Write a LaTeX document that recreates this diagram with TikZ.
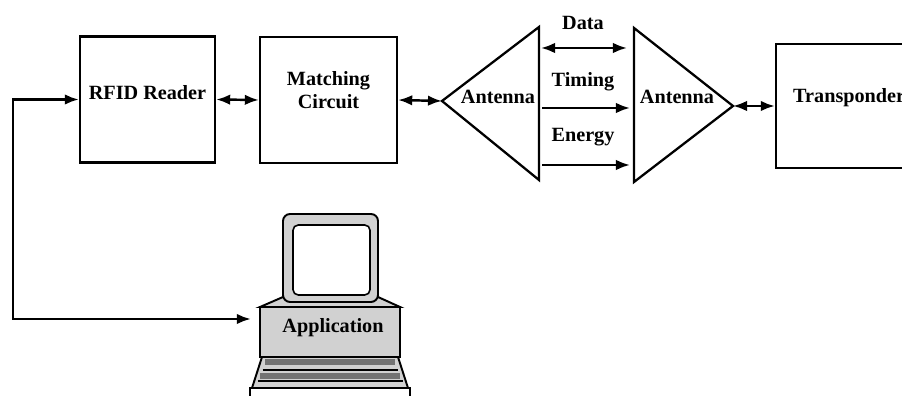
\documentclass[tikz,border=0pt]{standalone}
\usepackage{fontspec}
\setmainfont{Liberation Serif}
\usetikzlibrary{arrows.meta}
\tikzset{
  block/.style={draw,line width=1.3pt,minimum width=2.7cm,minimum height=2.52cm,inner sep=0pt},
  lbl/.style={font=\bfseries\fontsize{11.5}{13}\selectfont,align=center,inner sep=0pt},
  link/.style={line width=1.4pt,{Latex[length=8pt,width=6pt]}-{Latex[length=8pt,width=6pt]}},
  feed/.style={line width=1.4pt,-{Latex[length=8pt,width=6pt]}},
  stipple/.style={fill=black!18},
}
\begin{document}
\begin{tikzpicture}
\useasboundingbox (0,0) rectangle (18.04,7.92);
\node (reader) [block] at (2.95,5.93) {};
\node (readertxt) [lbl] at ([yshift=.13cm]reader.center) {RFID Reader};
\node (match) [block,minimum width=2.74cm] at (6.57,5.92) {};
\node (matchtxt) [lbl] at ([yshift=.2cm]match.center) {Matching\\Circuit};
\node (xp) [block,minimum height=2.48cm] at (16.87,5.8) {};
\node (xptxt) [lbl,anchor=west] at ([xshift=.36cm,yshift=.16cm]xp.west) {Transponder};
% the two antennas
\draw[line width=1.3pt] (10.78,7.38) -- (8.84,5.9) coordinate (a1tip) -- (10.78,4.32) -- cycle;
\node (a1txt) [lbl] at (9.96,5.98) {Antenna};
\draw[line width=1.3pt] (12.68,7.36) -- (14.66,5.8) coordinate (a2tip) -- (12.68,4.28) -- cycle;
\node (a2txt) [lbl] at (13.54,5.98) {Antenna};
\draw[link] (reader.east) -- (match.west);
\draw[link] (match.east) -- (a1tip);
\draw[link] (a2tip) -- (xp.west);
% air interface
\coordinate (dataL) at (10.82,6.96);
\coordinate (dataR) at (12.54,6.96);
\coordinate (timeL) at (10.84,5.76);
\coordinate (timeR) at (12.6,5.76);
\coordinate (enL) at (10.84,4.62);
\coordinate (enR) at (12.6,4.62);
\draw[link] (dataL) -- (dataR);
\draw[feed] (timeL) -- (timeR);
\draw[feed] (enL) -- (enR);
\node (datatxt) [lbl] at (11.66,7.46) {Data};
\node (timetxt) [lbl] at (11.66,6.28) {Timing};
\node (entxt) [lbl] at (11.66,5.18) {Energy};
% computer
\draw[line width=1.1pt,stipple] (5.24,0.78) -- (7.96,0.78) -- (8.16,0.16) -- (5.04,0.16) -- cycle;
\draw[line width=3pt,black!55] (5.3,.68) -- (7.9,.68);
\draw[line width=3pt,black!55] (5.2,.40) -- (8.0,.40);
\draw[line width=1.3pt] (5.25,.52) -- (7.95,.52);
\draw[line width=1.3pt] (5.15,.30) -- (8.05,.30);
\draw[line width=1.3pt,fill=white] (5.0,0.16) rectangle (8.2,-0.1);
\draw[line width=1.1pt,stipple] (5.66,1.98) -- (5.2,1.78) -- (8.0,1.78) -- (7.56,1.98);
\draw[line width=1.1pt,stipple,rounded corners=4pt] (5.66,3.64) rectangle (7.56,1.88);
\draw[line width=.9pt,fill=white,rounded corners=3pt] (5.86,3.42) rectangle (7.4,2.02);
\node (app) [draw,line width=1.3pt,stipple,minimum width=2.8cm,minimum height=1cm,inner sep=0pt] at (6.6,1.28) {};
\node (apptxt) [lbl] at (6.66,1.36) {Application};
\coordinate (bus) at (0.26,0);
\draw[link,shorten >=.16cm] (reader.west) -- (reader.west -| bus) |- ([yshift=.26cm]app.west);
\end{tikzpicture}
\end{document}
